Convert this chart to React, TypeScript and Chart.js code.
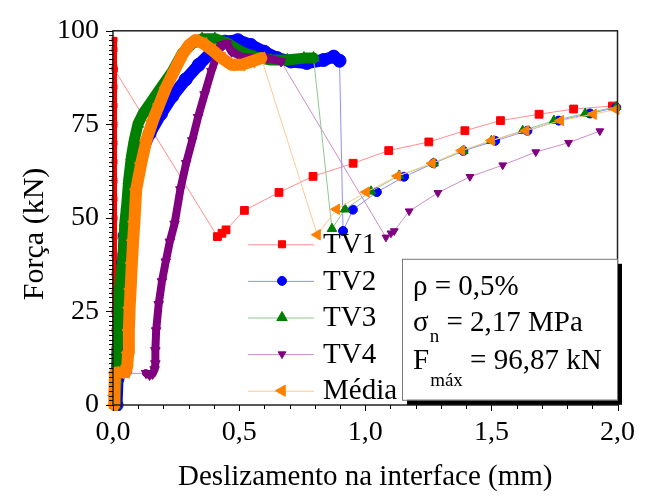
import React, { useEffect, useRef } from 'react';
import { Chart, registerables } from 'chart.js';

Chart.register(...registerables);

const SERIF = "'Liberation Serif', 'Times New Roman', Times, serif";

// ---- text ----
const xTickLabels = ['0,0', '0,5', '1,0', '1,5', '2,0'];
const yTickLabels = ['0', '25', '50', '75', '100'];
const seriesNames = ['TV1', 'TV2', 'TV3', 'TV4', 'Média'];
const xTitle = 'Deslizamento na interface (mm)';
const yTitle = 'Força (kN)';
const noteSymbols = ['ρ', 'σ', 'F'];
const noteSubscripts = ['', 'n', 'máx'];
const noteValues = [' = 0,5%', ' = 2,17 MPa', ' = 96,87 kN'];

// ---- data (slip in mm, force in kN) ----
const tv1X = [0.006, 0.006, 0.006, 0.006, 0.006, 0.006, 0.006, 0.006, 0.006, 0.006, 0.006, 0.006, 0.006, 0.006, 0.006, 0.006, 0.006, 0.006, 0.006, 0.006, 0.006, 0.007,
  0.414, 0.432, 0.448, 0.521, 0.658, 0.793, 0.952, 1.093, 1.252, 1.395, 1.536, 1.689, 1.826, 1.980];
const tv1Y = [0, 5, 10, 15, 20, 25, 30, 35, 40, 45, 50, 55, 60, 65, 70, 75, 80, 85, 90, 95, 97.6, 89.6,
  45.0, 45.9, 46.8, 52.0, 56.8, 61.1, 64.6, 68.0, 70.3, 73.3, 76.0, 77.7, 79.1, 79.9];
const tv1Dense = [0, 21];

const tv2X = [0.014, 0.018, 0.021, 0.028, 0.034, 0.040, 0.047, 0.060, 0.079, 0.106, 0.145, 0.190, 0.236, 0.288, 0.340, 0.392, 0.444, 0.495, 0.547, 0.600, 0.651, 0.705, 0.768, 0.835, 0.875, 0.898,
  0.912, 0.951, 1.046, 1.154, 1.271, 1.389, 1.515, 1.643, 1.767, 1.891, 1.995];
const tv2Y = [0, 7, 13.7, 22, 31.3, 38, 45.3, 52.3, 60.2, 66.4, 72.5, 77.8, 82.6, 87.0, 90.9, 94.4, 97.1, 97.5, 96.2, 94.4, 92.7, 91.8, 91.4, 92.2, 93.1, 92.0,
  46.5, 52.2, 56.9, 61.0, 64.6, 67.9, 70.6, 73.3, 76.0, 77.9, 79.5];
const tv2Dense = [0, 25];

const tv3X = [0.008, 0.012, 0.016, 0.021, 0.027, 0.034, 0.040, 0.047, 0.054, 0.062, 0.073, 0.085, 0.099, 0.120, 0.145, 0.190, 0.236, 0.275, 0.314, 0.353, 0.404, 0.456, 0.508, 0.561, 0.626, 0.691, 0.757, 0.795,
  0.868, 0.920, 1.023, 1.134, 1.271, 1.389, 1.500, 1.624, 1.748, 1.872, 1.995];
const tv3Y = [0, 6.7, 14, 22.5, 31.3, 36, 40, 48.8, 53.2, 60, 66.4, 71, 75.1, 78, 80.4, 84.8, 89.2, 94.0, 96.6, 97.9, 97.9, 96.6, 94.4, 93.1, 92.2, 92.2, 92.7, 92.7,
  47.1, 52.3, 57.1, 61.3, 64.6, 68.0, 70.6, 73.3, 76.0, 77.9, 79.7];
const tv3Dense = [0, 27];

const tv4X = [0.060, 0.131, 0.145, 0.157, 0.165, 0.168, 0.168, 0.171, 0.181, 0.194, 0.209, 0.225, 0.244, 0.267, 0.290, 0.314, 0.337, 0.363, 0.390, 0.412, 0.431, 0.451, 0.470, 0.509, 0.561, 0.612, 0.666,
  1.082, 1.102, 1.115, 1.174, 1.288, 1.415, 1.545, 1.676, 1.806, 1.930];
const tv4Y = [8.4, 8.5, 8.0, 8.3, 9.5, 11.1, 14.6, 19.9, 26.9, 33.0, 38.3, 43.6, 48.4, 57.6, 64.6, 70.7, 76.9, 83.0, 89.2, 93.6, 96.2, 96.6, 94.4, 93.1, 92.7, 92.7, 91.8,
  44.8, 45.9, 46.5, 51.8, 56.7, 61.0, 64.1, 67.6, 70.1, 73.2];
const tv4Dense = [1, 26];

const mediaX = [0.005, 0.005, 0.008, 0.030, 0.050, 0.057, 0.060, 0.063, 0.066, 0.070, 0.075, 0.080, 0.085, 0.092, 0.112, 0.132, 0.158, 0.184, 0.210, 0.242, 0.275, 0.301, 0.327, 0.358, 0.392, 0.431, 0.470, 0.509, 0.549, 0.588,
  0.810, 0.886, 1.004, 1.128, 1.265, 1.382, 1.500, 1.637, 1.774, 1.904, 1.994];
const mediaY = [0, 2.5, 8.6, 8.7, 8.8, 10.5, 14, 20, 26, 31, 38, 44, 49, 57.6, 64.6, 70.7, 76.0, 80.4, 84.8, 89.2, 93.6, 96.2, 97.5, 96.6, 94.9, 92.7, 90.9, 90.9, 91.8, 92.7,
  45.5, 52.3, 56.9, 61.2, 64.6, 68.0, 70.7, 73.3, 76.0, 77.7, 79.0];
const mediaDense = [0, 29];

const seriesX = [tv1X, tv2X, tv3X, tv4X, mediaX];
const seriesY = [tv1Y, tv2Y, tv3Y, tv4Y, mediaY];
const seriesDense = [tv1Dense, tv2Dense, tv3Dense, tv4Dense, mediaDense];

// ---- styles ----
const styles = [
  { color: '#ff0000', line: '#ff8f8f', shape: 'rect', rot: 0, r: 5.5, denseR: 3.5, band: 5, legendR: 5 },
  { color: '#0000ff', line: '#8f8fff', shape: 'circle', rot: 0, r: 4.5, denseR: 6.5, band: 12, legendR: 4.5 },
  { color: '#008000', line: '#8fc88f', shape: 'triangle', rot: 0, r: 5.5, denseR: 6.5, band: 11, legendR: 6 },
  { color: '#800080', line: '#c88fc8', shape: 'triangle', rot: 180, r: 4.5, denseR: 5.5, band: 8, legendR: 4.5 },
  { color: '#ff8000', line: '#ffc88f', shape: 'triangle', rot: 270, r: 6, denseR: 7, band: 12, legendR: 6.5 },
];

function drawMarker(ctx: CanvasRenderingContext2D, shape: string, rotDeg: number, x: number, y: number, r: number, color: string) {
  ctx.save();
  ctx.fillStyle = color;
  ctx.strokeStyle = color;
  ctx.lineWidth = 1;
  ctx.beginPath();
  if (shape === 'circle') {
    ctx.arc(x, y, r, 0, Math.PI * 2);
  } else if (shape === 'rect') {
    const s = Math.SQRT1_2 * r;
    ctx.rect(x - s, y - s, 2 * s, 2 * s);
  } else {
    let rad = (rotDeg * Math.PI) / 180;
    ctx.moveTo(x + Math.sin(rad) * r, y - Math.cos(rad) * r);
    rad += (2 * Math.PI) / 3;
    ctx.lineTo(x + Math.sin(rad) * r, y - Math.cos(rad) * r);
    rad += (2 * Math.PI) / 3;
    ctx.lineTo(x + Math.sin(rad) * r, y - Math.cos(rad) * r);
    ctx.closePath();
  }
  ctx.fill();
  ctx.stroke();
  ctx.restore();
}

const decorPlugin = {
  id: 'decor',
  afterDatasetsDraw(chart: any) {
    const { ctx, chartArea } = chart;
    const { left, top, right, bottom } = chartArea;
    const xs = chart.scales.x;
    const ys = chart.scales.y;
    ctx.save();
    // frame
    ctx.strokeStyle = '#222';
    ctx.lineWidth = 1.5;
    ctx.strokeRect(left, top, right - left, bottom - top);
    // ticks
    ctx.strokeStyle = '#000';
    ctx.lineWidth = 1;
    ctx.beginPath();
    for (let k = 0; k <= 20; k++) {
      const px = Math.round(xs.getPixelForValue(k * 0.1)) + 0.5;
      const len = k % 5 === 0 ? 6 : 4;
      ctx.moveTo(px, bottom);
      ctx.lineTo(px, bottom + len);
    }
    for (let k = 0; k <= 80; k++) {
      const py = Math.round(ys.getPixelForValue(k * 1.25)) + 0.5;
      const len = k % 20 === 0 ? 7 : 4;
      ctx.moveTo(left, py);
      ctx.lineTo(left - len, py);
    }
    ctx.stroke();

    // y title
    ctx.save();
    ctx.translate(left - 78, (top + bottom) / 2 + 16);
    ctx.rotate(-Math.PI / 2);
    ctx.font = `30px ${SERIF}`;
    ctx.fillStyle = '#000';
    ctx.textAlign = 'center';
    ctx.textBaseline = 'middle';
    ctx.fillText(yTitle, 0, 0);
    ctx.restore();

    // legend
    const lx0 = left + 135;
    const lx1 = left + 201;
    const mx = left + 169;
    const tx = left + 210;
    const row0 = top + 213.5;
    const step = 36.6;
    ctx.font = `29px ${SERIF}`;
    ctx.textAlign = 'left';
    ctx.textBaseline = 'middle';
    seriesNames.forEach((name, i) => {
      const st = styles[i];
      const y = row0 + i * step;
      ctx.strokeStyle = st.line;
      ctx.lineWidth = 1;
      ctx.beginPath();
      ctx.moveTo(lx0, y + 0.5);
      ctx.lineTo(lx1, y + 0.5);
      ctx.stroke();
      drawMarker(ctx, st.shape, st.rot, mx, y, st.legendR, st.color);
      ctx.fillStyle = '#000';
      ctx.fillText(name, tx, y + 1);
    });

    // note box
    const bx = left + 289;
    const by = top + 228;
    const bw = 215;
    const bh = 141;
    ctx.fillStyle = '#000';
    ctx.fillRect(bx + 5, by + 5, bw, bh);
    ctx.fillStyle = '#fff';
    ctx.fillRect(bx, by, bw, bh);
    ctx.strokeStyle = '#777';
    ctx.lineWidth = 1;
    ctx.strokeRect(bx + 0.5, by + 0.5, bw, bh);
    const nx = left + 300;
    const baselines = [top + 264.3, top + 300, top + 338.3];
    const subDrop = [0, 11, 17];
    ctx.textBaseline = 'alphabetic';
    ctx.fillStyle = '#000';
    noteSymbols.forEach((sym, i) => {
      const bl = baselines[i];
      ctx.font = `29px ${SERIF}`;
      ctx.fillText(sym, nx, bl);
      let cx = nx + ctx.measureText(sym).width;
      if (noteSubscripts[i]) {
        ctx.font = `19px ${SERIF}`;
        ctx.fillText(noteSubscripts[i], cx + 1, bl + subDrop[i]);
        cx += 1 + ctx.measureText(noteSubscripts[i]).width;
      }
      ctx.font = `29px ${SERIF}`;
      ctx.fillText(noteValues[i], cx, bl);
    });
    ctx.restore();
  },
};

export default function App() {
  const ref = useRef<HTMLCanvasElement | null>(null);
  useEffect(() => {
    if (!ref.current) return;
    const datasets: any[] = [];
    seriesNames.forEach((name, i) => {
      const st = styles[i];
      const xsArr = seriesX[i];
      const ysArr = seriesY[i];
      const [d0, d1] = seriesDense[i];
      const pts = xsArr.map((x, k) => ({ x, y: ysArr[k] }));
      const order = (5 - i) * 2;
      datasets.push({
        label: name,
        data: pts,
        showLine: true,
        borderColor: st.line,
        backgroundColor: st.color,
        borderWidth: 1,
        pointStyle: st.shape,
        pointRotation: st.rot,
        pointRadius: (c: any) => (c.dataIndex >= d0 && c.dataIndex <= d1 ? st.denseR : st.r),
        pointBackgroundColor: st.color,
        pointBorderColor: st.color,
        pointBorderWidth: 1,
        order,
        clip: 6,
      });
      datasets.push({
        label: name + ' band',
        data: pts.slice(d0, d1 + 1),
        showLine: true,
        borderColor: st.color,
        borderWidth: st.band,
        borderJoinStyle: 'round',
        borderCapStyle: 'round',
        pointRadius: 0,
        order: order - 1,
        clip: 6,
      });
    });

    const chart = new Chart(ref.current, {
      type: 'scatter',
      data: { datasets },
      options: {
        animation: false,
        responsive: true,
        maintainAspectRatio: false,
        layout: { padding: { top: 25, right: 21, left: 0, bottom: 0 } },
        plugins: { legend: { display: false }, tooltip: { enabled: false } },
        scales: {
          x: {
            type: 'linear',
            min: 0,
            max: 2,
            afterFit: (s: any) => { s.height = 91; },
            grid: { display: false, drawTicks: false },
            border: { display: false },
            ticks: {
              stepSize: 0.5,
              padding: 11,
              color: '#000',
              font: { family: SERIF, size: 28 },
              maxRotation: 0,
              autoSkip: false,
              callback: (_v: any, i: number) => xTickLabels[i],
            },
            title: {
              display: true,
              text: xTitle,
              color: '#000',
              font: { family: SERIF, size: 29 },
              padding: { top: 0, bottom: 1 },
            },
          },
          y: {
            type: 'linear',
            min: 0,
            max: 100,
            afterFit: (s: any) => { s.width = 113; },
            grid: { display: false, drawTicks: false },
            border: { display: false },
            ticks: {
              stepSize: 25,
              padding: 14,
              color: '#000',
              font: { family: SERIF, size: 28 },
              autoSkip: false,
              callback: (_v: any, i: number) => yTickLabels[i],
            },
          },
        },
      },
      plugins: [decorPlugin],
    } as any);
    return () => chart.destroy();
  }, []);

  return (
    <div style={{ position: 'absolute', left: 0, top: 0, width: 646, height: 496, background: '#fff' }}>
      <canvas ref={ref} />
    </div>
  );
}
